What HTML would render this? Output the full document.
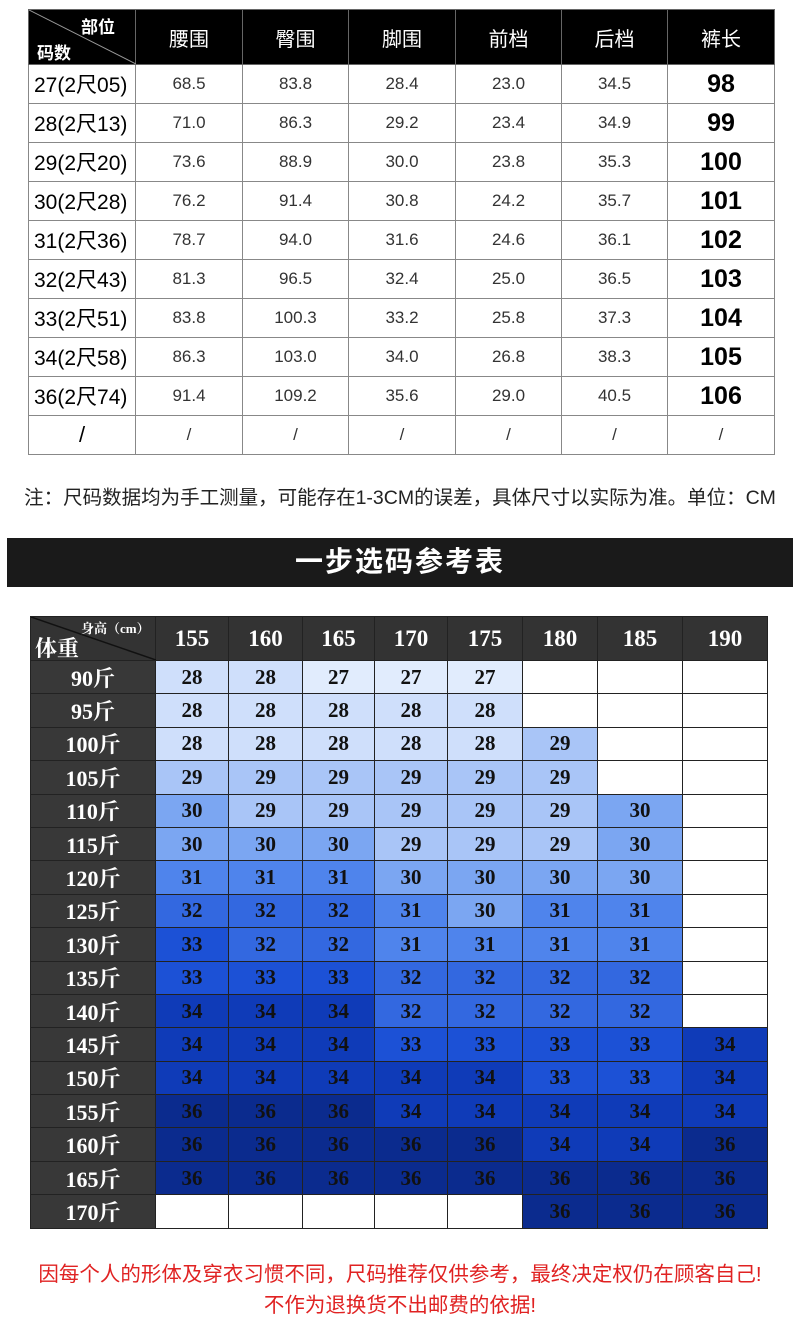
<!DOCTYPE html>
<html><head><meta charset="utf-8"><style>
body{margin:0;width:800px;height:1339px;background:#fff;position:relative;overflow:hidden}
.t1{position:absolute;left:28px;top:9px;border-collapse:collapse;table-layout:fixed;font-family:"Liberation Sans","Noto Sans CJK SC",sans-serif}
.t1 td{border:1px solid #888;text-align:center;color:#333;font-size:17px;height:38px;padding:0}
.t1 tr.h td{background:#000;color:#fff;font-size:20px;height:54px;border-color:#666}
.t1 td.f{color:#000;font-size:21px;text-align:left;padding-left:5px}
.t1 td.l{color:#000;font-size:25px;font-weight:bold}
.note{position:absolute;left:0;width:800px;top:481px;text-align:center;font-family:"Liberation Sans","Noto Sans CJK SC",sans-serif;font-size:19.5px;color:#222}
.bar{position:absolute;left:7px;top:538px;width:786px;height:49px;background:#1a1a1a;color:#fff;font-family:"Liberation Sans","Noto Sans CJK SC",sans-serif;font-weight:bold;font-size:28px;text-align:center;line-height:47px;letter-spacing:2px}
.t2{position:absolute;left:30px;top:616px;border-collapse:collapse;table-layout:fixed;font-family:"Liberation Serif","Noto Serif CJK SC",serif;font-weight:bold}
.t2 td{border:1px solid #222;text-align:center;font-size:21px;color:#111;height:32.4px;padding:0}
.t2 tr.h td{background:#333;color:#fff;height:43px;font-size:23px}
.t2 td.w{background:#383838;color:#fff;font-size:22px}
.e{background:#fff}
.a27{background:#e1ecfd}.a28{background:#cfdffb}.a29{background:#a9c5f7}.a30{background:#7ba6f2}.a31{background:#4f84ec}.a32{background:#3368e0}.a33{background:#1c51d6}.a34{background:#0f3bb8}.a36{background:#0b2b8e}
.ft{position:absolute;left:0;width:800px;text-align:center;font-family:"Liberation Sans","Noto Sans CJK SC",sans-serif;font-size:20.5px;color:#e02222}
</style></head><body>
<table class="t1">
<colgroup><col style="width:107px"><col style="width:107px"><col style="width:106px"><col style="width:107px"><col style="width:106px"><col style="width:106px"><col style="width:107px"></colgroup>
<tr class="h"><td style="position:relative;background:#000"><svg width="107" height="54" style="position:absolute;left:0;top:0"><line x1="0" y1="0" x2="107" y2="54" stroke="#999" stroke-width="1"/></svg><span style="position:absolute;left:52px;top:3px;font-size:17px;font-weight:bold">部位</span><span style="position:absolute;left:8px;top:29px;font-size:17px;font-weight:bold">码数</span></td><td>腰围</td><td>臀围</td><td>脚围</td><td>前档</td><td>后档</td><td>裤长</td></tr>
<tr><td class="f">27(2尺05)</td><td>68.5</td><td>83.8</td><td>28.4</td><td>23.0</td><td>34.5</td><td class="l">98</td></tr>
<tr><td class="f">28(2尺13)</td><td>71.0</td><td>86.3</td><td>29.2</td><td>23.4</td><td>34.9</td><td class="l">99</td></tr>
<tr><td class="f">29(2尺20)</td><td>73.6</td><td>88.9</td><td>30.0</td><td>23.8</td><td>35.3</td><td class="l">100</td></tr>
<tr><td class="f">30(2尺28)</td><td>76.2</td><td>91.4</td><td>30.8</td><td>24.2</td><td>35.7</td><td class="l">101</td></tr>
<tr><td class="f">31(2尺36)</td><td>78.7</td><td>94.0</td><td>31.6</td><td>24.6</td><td>36.1</td><td class="l">102</td></tr>
<tr><td class="f">32(2尺43)</td><td>81.3</td><td>96.5</td><td>32.4</td><td>25.0</td><td>36.5</td><td class="l">103</td></tr>
<tr><td class="f">33(2尺51)</td><td>83.8</td><td>100.3</td><td>33.2</td><td>25.8</td><td>37.3</td><td class="l">104</td></tr>
<tr><td class="f">34(2尺58)</td><td>86.3</td><td>103.0</td><td>34.0</td><td>26.8</td><td>38.3</td><td class="l">105</td></tr>
<tr><td class="f">36(2尺74)</td><td>91.4</td><td>109.2</td><td>35.6</td><td>29.0</td><td>40.5</td><td class="l">106</td></tr>
<tr><td style="color:#000;font-size:22px">/</td><td>/</td><td>/</td><td>/</td><td>/</td><td>/</td><td>/</td></tr>
</table>
<div class="note">注：尺码数据均为手工测量，可能存在1-3CM的误差，具体尺寸以实际为准。单位：CM</div>
<div class="bar">一步选码参考表</div>
<table class="t2">
<colgroup><col style="width:125px"><col style="width:73px"><col style="width:74px"><col style="width:72px"><col style="width:73px"><col style="width:75px"><col style="width:75px"><col style="width:85px"><col style="width:85px"></colgroup>
<tr class="h"><td style="position:relative;background:#333"><svg width="125" height="43" style="position:absolute;left:0;top:0"><line x1="0" y1="0" x2="125" y2="43" stroke="#111" stroke-width="1.5"/></svg><span style="position:absolute;left:50px;top:1px;font-size:13px">身高（cm）</span><span style="position:absolute;left:4px;top:15px;font-size:22px">体重</span></td><td>155</td><td>160</td><td>165</td><td>170</td><td>175</td><td>180</td><td>185</td><td>190</td></tr>
<tr><td class="w">90斤</td><td class="a28">28</td><td class="a28">28</td><td class="a27">27</td><td class="a27">27</td><td class="a27">27</td><td class="e"></td><td class="e"></td><td class="e"></td></tr>
<tr><td class="w">95斤</td><td class="a28">28</td><td class="a28">28</td><td class="a28">28</td><td class="a28">28</td><td class="a28">28</td><td class="e"></td><td class="e"></td><td class="e"></td></tr>
<tr><td class="w">100斤</td><td class="a28">28</td><td class="a28">28</td><td class="a28">28</td><td class="a28">28</td><td class="a28">28</td><td class="a29">29</td><td class="e"></td><td class="e"></td></tr>
<tr><td class="w">105斤</td><td class="a29">29</td><td class="a29">29</td><td class="a29">29</td><td class="a29">29</td><td class="a29">29</td><td class="a29">29</td><td class="e"></td><td class="e"></td></tr>
<tr><td class="w">110斤</td><td class="a30">30</td><td class="a29">29</td><td class="a29">29</td><td class="a29">29</td><td class="a29">29</td><td class="a29">29</td><td class="a30">30</td><td class="e"></td></tr>
<tr><td class="w">115斤</td><td class="a30">30</td><td class="a30">30</td><td class="a30">30</td><td class="a29">29</td><td class="a29">29</td><td class="a29">29</td><td class="a30">30</td><td class="e"></td></tr>
<tr><td class="w">120斤</td><td class="a31">31</td><td class="a31">31</td><td class="a31">31</td><td class="a30">30</td><td class="a30">30</td><td class="a30">30</td><td class="a30">30</td><td class="e"></td></tr>
<tr><td class="w">125斤</td><td class="a32">32</td><td class="a32">32</td><td class="a32">32</td><td class="a31">31</td><td class="a30">30</td><td class="a31">31</td><td class="a31">31</td><td class="e"></td></tr>
<tr><td class="w">130斤</td><td class="a33">33</td><td class="a32">32</td><td class="a32">32</td><td class="a31">31</td><td class="a31">31</td><td class="a31">31</td><td class="a31">31</td><td class="e"></td></tr>
<tr><td class="w">135斤</td><td class="a33">33</td><td class="a33">33</td><td class="a33">33</td><td class="a32">32</td><td class="a32">32</td><td class="a32">32</td><td class="a32">32</td><td class="e"></td></tr>
<tr><td class="w">140斤</td><td class="a34">34</td><td class="a34">34</td><td class="a34">34</td><td class="a32">32</td><td class="a32">32</td><td class="a32">32</td><td class="a32">32</td><td class="e"></td></tr>
<tr><td class="w">145斤</td><td class="a34">34</td><td class="a34">34</td><td class="a34">34</td><td class="a33">33</td><td class="a33">33</td><td class="a33">33</td><td class="a33">33</td><td class="a34">34</td></tr>
<tr><td class="w">150斤</td><td class="a34">34</td><td class="a34">34</td><td class="a34">34</td><td class="a34">34</td><td class="a34">34</td><td class="a33">33</td><td class="a33">33</td><td class="a34">34</td></tr>
<tr><td class="w">155斤</td><td class="a36">36</td><td class="a36">36</td><td class="a36">36</td><td class="a34">34</td><td class="a34">34</td><td class="a34">34</td><td class="a34">34</td><td class="a34">34</td></tr>
<tr><td class="w">160斤</td><td class="a36">36</td><td class="a36">36</td><td class="a36">36</td><td class="a36">36</td><td class="a36">36</td><td class="a34">34</td><td class="a34">34</td><td class="a36">36</td></tr>
<tr><td class="w">165斤</td><td class="a36">36</td><td class="a36">36</td><td class="a36">36</td><td class="a36">36</td><td class="a36">36</td><td class="a36">36</td><td class="a36">36</td><td class="a36">36</td></tr>
<tr><td class="w">170斤</td><td class="e"></td><td class="e"></td><td class="e"></td><td class="e"></td><td class="e"></td><td class="a36">36</td><td class="a36">36</td><td class="a36">36</td></tr>
</table>
<div class="ft" style="top:1257px">因每个人的形体及穿衣习惯不同，尺码推荐仅供参考，最终决定权仍在顾客自己!</div>
<div class="ft" style="top:1288px">不作为退换货不出邮费的依据!</div>
</body></html>
